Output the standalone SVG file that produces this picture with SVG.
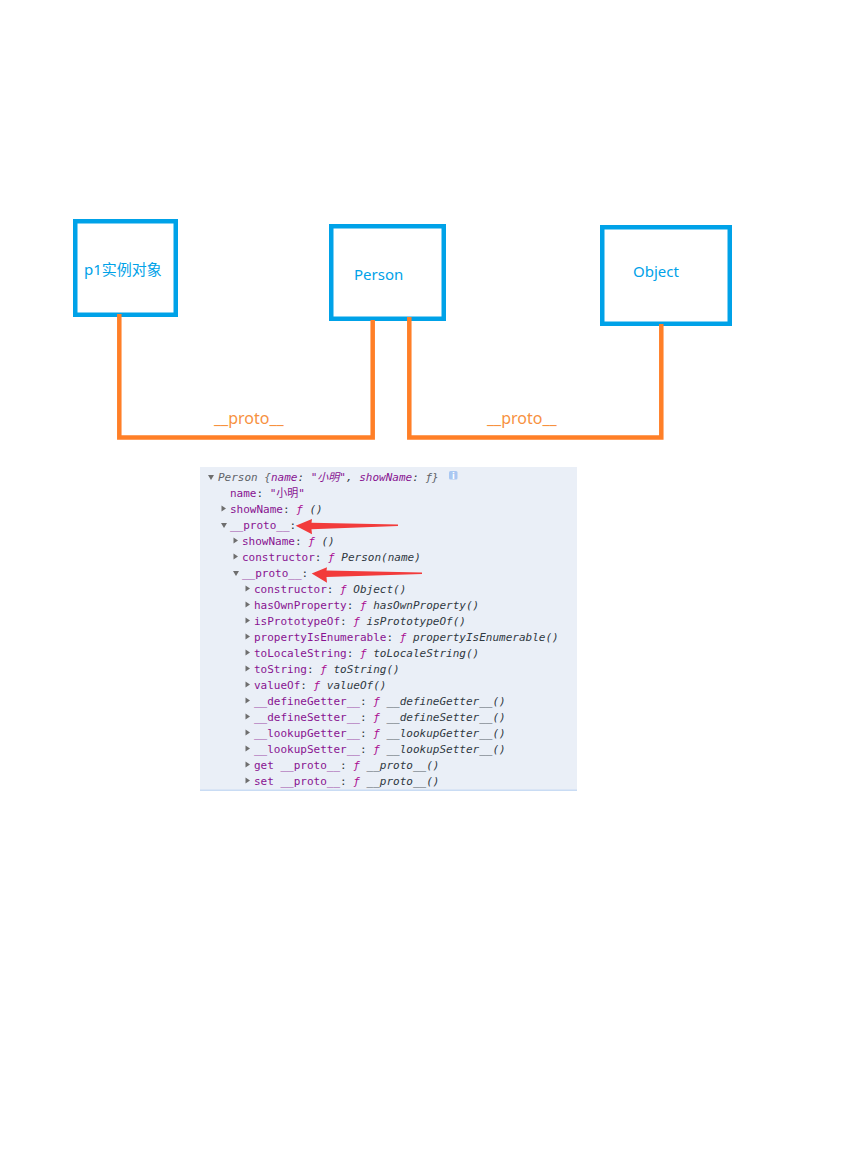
<svg xmlns="http://www.w3.org/2000/svg" width="844" height="1171" viewBox="0 0 844 1171">
  <style>
    .box { fill: none; stroke: #00a2e8; stroke-width: 4.5; }
    .box-label { font-family: "Noto Sans", "Noto Sans CJK SC", sans-serif; font-size: 15px; fill: #00a2e8; }
    .link { fill: none; stroke: #ff7f27; stroke-width: 4.5; stroke-linejoin: miter; }
    .link-label { font-family: "Noto Sans", sans-serif; font-size: 16px; fill: #f7913f; }
    .con { font-family: "DejaVu Sans Mono", "Noto Sans CJK SC", monospace; font-size: 11px; fill: #303942; }
    .it { font-style: italic; }
    .key { fill: #881391; }
    .fn { fill: #aa0d91; font-style: italic; }
    .str { fill: #881391; }
    .tri { fill: #6e6e6e; }
    .pointer { fill: #f23b3b; }
  </style>

  <rect width="844" height="1171" fill="#ffffff"/>

  <!-- nodes -->
  <g id="node-p1">
    <rect class="box" x="75.25" y="221.25" width="100.5" height="93.5"/>
    <text class="box-label" x="84" y="275">p1实例对象</text>
  </g>
  <g id="node-person">
    <rect class="box" x="331.25" y="226.25" width="112.5" height="92.5"/>
    <text class="box-label" x="354" y="280">Person</text>
  </g>
  <g id="node-object">
    <rect class="box" x="602.25" y="227.25" width="127.5" height="96.5"/>
    <text class="box-label" x="633" y="277">Object</text>
  </g>

  <!-- connectors -->
  <g id="connectors">
    <path class="link" d="M119.3,314 V437.5 H372.7 V320"/>
    <path class="link" d="M409.3,317 V437.5 H661.3 V324"/>
    <text class="link-label" x="214" y="424">__proto__</text>
    <text class="link-label" x="487" y="424">__proto__</text>
  </g>

  <!-- console output panel -->
  <g id="console">
    <rect x="200" y="467" width="377" height="323" fill="#eaeff7"/>
    <rect x="200" y="789.5" width="377" height="1.5" fill="#c9dcf4"/>

    <!-- expand / collapse markers -->
    <polygon class="tri" points="208,475 214,475 211,480"/>
    <polygon class="tri" points="221.5,505.5 226,508.5 221.5,511.5"/>
    <polygon class="tri" points="221,523 227,523 224,528"/>
    <polygon class="tri" points="233.5,537.5 238,540.5 233.5,543.5"/>
    <polygon class="tri" points="233.5,553.5 238,556.5 233.5,559.5"/>
    <polygon class="tri" points="233,571 239,571 236,576"/>
    <g class="tri">
      <polygon points="245.5,585.5 250,588.5 245.5,591.5"/>
      <polygon points="245.5,601.5 250,604.5 245.5,607.5"/>
      <polygon points="245.5,617.5 250,620.5 245.5,623.5"/>
      <polygon points="245.5,633.5 250,636.5 245.5,639.5"/>
      <polygon points="245.5,649.5 250,652.5 245.5,655.5"/>
      <polygon points="245.5,665.5 250,668.5 245.5,671.5"/>
      <polygon points="245.5,681.5 250,684.5 245.5,687.5"/>
      <polygon points="245.5,697.5 250,700.5 245.5,703.5"/>
      <polygon points="245.5,713.5 250,716.5 245.5,719.5"/>
      <polygon points="245.5,729.5 250,732.5 245.5,735.5"/>
      <polygon points="245.5,745.5 250,748.5 245.5,751.5"/>
      <polygon points="245.5,761.5 250,764.5 245.5,767.5"/>
      <polygon points="245.5,777.5 250,780.5 245.5,783.5"/>
    </g>

    <g class="con" xml:space="preserve">
      <text x="218" y="481" class="it"><tspan fill="#5f6368">Person {</tspan><tspan class="key">name</tspan>: <tspan class="str">"小明"</tspan>, <tspan class="key">showName</tspan>: <tspan fill="#5f6368">ƒ}</tspan></text>
      <text x="230" y="497"><tspan class="key">name</tspan>: <tspan class="str">"小明"</tspan></text>
      <text x="230" y="513"><tspan class="key">showName</tspan>: <tspan class="fn">ƒ</tspan><tspan class="it"> ()</tspan></text>
      <text x="230" y="529"><tspan class="key">__proto__</tspan>:</text>
      <text x="242" y="545"><tspan class="key">showName</tspan>: <tspan class="fn">ƒ</tspan><tspan class="it"> ()</tspan></text>
      <text x="242" y="561"><tspan class="key">constructor</tspan>: <tspan class="fn">ƒ</tspan><tspan class="it"> Person(name)</tspan></text>
      <text x="242" y="577"><tspan class="key">__proto__</tspan>:</text>
      <text x="254" y="593"><tspan class="key">constructor</tspan>: <tspan class="fn">ƒ</tspan><tspan class="it"> Object()</tspan></text>
      <text x="254" y="609"><tspan class="key">hasOwnProperty</tspan>: <tspan class="fn">ƒ</tspan><tspan class="it"> hasOwnProperty()</tspan></text>
      <text x="254" y="625"><tspan class="key">isPrototypeOf</tspan>: <tspan class="fn">ƒ</tspan><tspan class="it"> isPrototypeOf()</tspan></text>
      <text x="254" y="641"><tspan class="key">propertyIsEnumerable</tspan>: <tspan class="fn">ƒ</tspan><tspan class="it"> propertyIsEnumerable()</tspan></text>
      <text x="254" y="657"><tspan class="key">toLocaleString</tspan>: <tspan class="fn">ƒ</tspan><tspan class="it"> toLocaleString()</tspan></text>
      <text x="254" y="673"><tspan class="key">toString</tspan>: <tspan class="fn">ƒ</tspan><tspan class="it"> toString()</tspan></text>
      <text x="254" y="689"><tspan class="key">valueOf</tspan>: <tspan class="fn">ƒ</tspan><tspan class="it"> valueOf()</tspan></text>
      <text x="254" y="705"><tspan class="key">__defineGetter__</tspan>: <tspan class="fn">ƒ</tspan><tspan class="it"> __defineGetter__()</tspan></text>
      <text x="254" y="721"><tspan class="key">__defineSetter__</tspan>: <tspan class="fn">ƒ</tspan><tspan class="it"> __defineSetter__()</tspan></text>
      <text x="254" y="737"><tspan class="key">__lookupGetter__</tspan>: <tspan class="fn">ƒ</tspan><tspan class="it"> __lookupGetter__()</tspan></text>
      <text x="254" y="753"><tspan class="key">__lookupSetter__</tspan>: <tspan class="fn">ƒ</tspan><tspan class="it"> __lookupSetter__()</tspan></text>
      <text x="254" y="769"><tspan class="key">get __proto__</tspan>: <tspan class="fn">ƒ</tspan><tspan class="it"> __proto__()</tspan></text>
      <text x="254" y="785"><tspan class="key">set __proto__</tspan>: <tspan class="fn">ƒ</tspan><tspan class="it"> __proto__()</tspan></text>
    </g>

    <!-- info badge -->
    <rect x="449" y="471" width="8.5" height="8.5" rx="1.5" fill="#a9c7f2"/>
    <text x="453.25" y="478.5" text-anchor="middle" font-family="DejaVu Sans, sans-serif" font-size="8" font-weight="bold" fill="#ffffff">i</text>

    <!-- red pointers -->
    <polygon class="pointer" points="295.7,525.7 312,519 311.5,522.8 398,524.5 398,526 311.5,529.3 312,534.3"/>
    <polygon class="pointer" points="311.7,573.5 327,567.3 326.5,570.5 422,572.5 422,574 326.5,577 327,582.7"/>
  </g>
</svg>
